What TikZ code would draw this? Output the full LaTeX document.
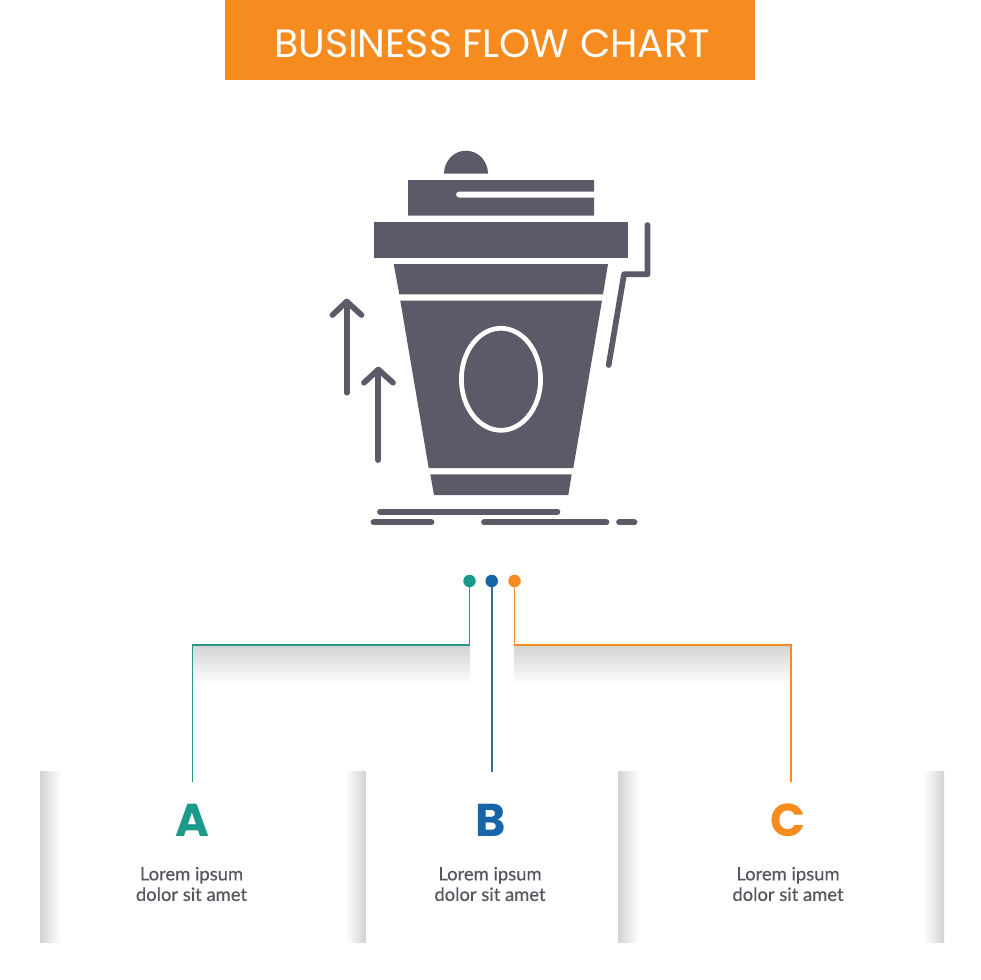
\documentclass[tikz,border=0pt]{standalone}
\usepackage{fontspec}
\setmainfont{Lato}[FakeBold=0.25]
\newfontfamily\headfont{Poppins}
\newfontfamily\letterfont{Poppins}
\usetikzlibrary{calc}
\definecolor{iconc}{HTML}{5B5A68}
\definecolor{orangec}{HTML}{F68B1F}
\definecolor{tealc}{HTML}{1A9A8A}
\definecolor{bluec}{HTML}{1565A8}
\definecolor{textc}{HTML}{55555F}
\definecolor{shadec}{HTML}{D2D4D4}
\definecolor{shademid}{HTML}{F0F1F1}
\tikzset{
  iconline/.style={draw=iconc,line width=5.7pt,line cap=round,line join=round},
  dotnode/.style={circle,inner sep=0pt,minimum size=12.5pt,fill=#1},
  conn/.style={draw=#1,line width=1.9pt},
  letternode/.style={text=#1,font=\letterfont\bfseries\fontsize{46}{46}\selectfont,inner sep=0pt,anchor=center},
  bodytext/.style={text=textc,font=\fontsize{18.4}{20.5}\selectfont,align=center,inner sep=0pt},
  shadev/.style={top color=shadec,middle color=shademid,bottom color=white},
  shadel/.style={left color=shadec,middle color=shademid,right color=white},
  shader/.style={left color=white,middle color=shademid,right color=shadec},
}
\begin{document}
\begin{tikzpicture}[x=1pt,y=-1pt]
\useasboundingbox (0,0) rectangle (980,980);
\fill[white] (0,0) rectangle (980,980);
% header
\fill[orangec] (225,0) rectangle (755,80);
\node[text=white,font=\headfont\fontsize{39.5}{39.5}\selectfont,inner sep=0pt] (title) at (492,43.5) {BUSINESS FLOW CHART};
% icon
\fill[iconc] (444,173.7) arc[start angle=180,end angle=360,x radius=22,y radius=23] -- cycle;
\fill[iconc] (408,180) -- (594,180) -- (594,191.5) -- (459,191.5) arc[start angle=270,end angle=90,radius=3] -- (594,197.5) -- (594,215.7) -- (408,215.7) -- cycle;
\fill[iconc] (374.3,222) rectangle (627.7,257.7);
\fill[iconc] (393.7,264) -- (608,264) -- (603,294.3) -- (399.3,294.3) -- cycle;
\fill[iconc] (400.3,300.7) -- (602,300.7) -- (573.3,468) -- (428.7,468) -- cycle;
\draw[white,line width=4.7pt] (501,379.3) ellipse[x radius=39.6,y radius=51];
\fill[iconc] (430.3,474.3) -- (571.7,474.3) -- (568.3,495) -- (434,495) -- cycle;
\draw[iconline] (647.5,225) -- (647.5,274.3) -- (624,274.3) -- (608.7,365);
\draw[iconline] (346.7,392.7) -- (346.7,302);
\draw[iconline] (332.5,315) -- (346.7,301.5) -- (361.5,315);
\draw[iconline] (378.3,460) -- (378.3,370);
\draw[iconline] (364,382.7) -- (378.3,369.5) -- (393,382.7);
\draw[iconline] (380,511.7) -- (557.5,511.7);
\draw[iconline] (373.5,522.3) -- (431.5,522.3);
\draw[iconline] (484,522.3) -- (606.5,522.3);
\draw[iconline] (619,522.3) -- (634.5,522.3);
% shadows
\shade[shadev] (192.5,645) rectangle (469.5,684);
\shade[shadev] (514.5,645) rectangle (791,684);
\shade[shadel] (40,771.5) rectangle (61,942.5);
\shade[shader] (345,771.5) rectangle (365.5,942.5);
\shade[shadel] (618.3,771.5) rectangle (639,942.5);
\shade[shader] (923,771.5) rectangle (944,942.5);
% nodes
\node[dotnode=tealc] (da) at (469.5,581) {};
\node[dotnode=bluec] (db) at (491.7,581) {};
\node[dotnode=orangec] (dc) at (514.5,581) {};
\coordinate (ea) at (192.5,782);
\coordinate (eb) at (491.7,771.5);
\coordinate (ec) at (791,782);
\draw[conn=tealc!85!gray] (da) |- (ea |- 0,645) -- (ea);
\draw[conn=bluec!75!gray] (db) -- (eb);
\draw[conn=orangec] (dc) |- (ec |- 0,645) -- (ec);
\node[letternode=tealc] (la) at (192,820) {A};
\node[letternode=bluec] (lb) at (490.5,820) {B};
\node[letternode=orangec] (lc) at (788.5,820) {C};
\node[bodytext] (ta) at (191.5,884) {Lorem ipsum\\dolor sit amet};
\node[bodytext] (tb) at (490,884) {Lorem ipsum\\dolor sit amet};
\node[bodytext] (tc) at (788,884) {Lorem ipsum\\dolor sit amet};
\end{tikzpicture}
\end{document}
